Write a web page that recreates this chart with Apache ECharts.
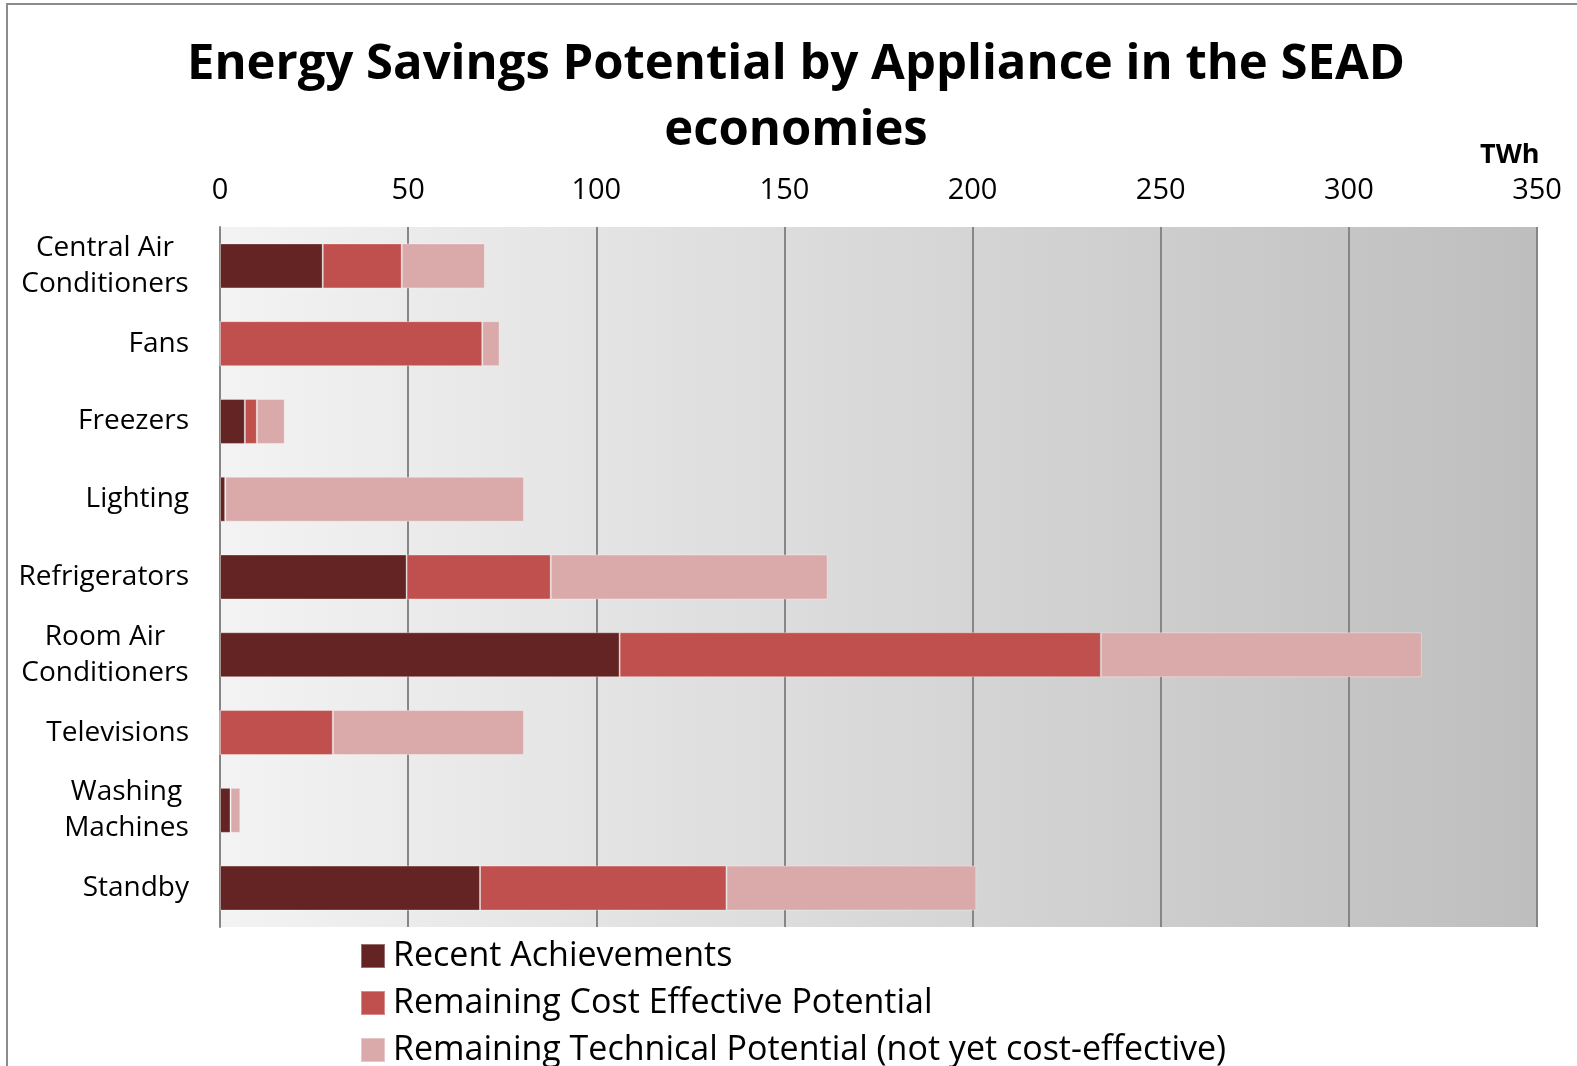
<!DOCTYPE html>
<html>
<head>
<meta charset="utf-8">
<script src="https://cdn.jsdelivr.net/npm/echarts@6/dist/echarts.min.js"></script>
<style>
html,body{margin:0;padding:0;background:#fff;}
#chart{width:1577px;height:1066px;}
</style>
</head>
<body>
<div id="chart"></div>
<script>
var categories = ['Central Air\nConditioners','Fans','Freezers','Lighting','Refrigerators','Room Air\nConditioners','Televisions','Washing\nMachines','Standby'];
var recentAchievements = [27.3, 0, 6.6, 1.4, 49.6, 106.2, 0, 2.8, 69.1];
var remainingCostEffective = [21.0, 69.7, 3.2, 0, 38.3, 127.9, 30.0, 0, 65.5];
var remainingTechnical = [22.1, 4.6, 7.4, 79.4, 73.6, 85.3, 50.8, 2.6, 66.4];
var seriesNames = ['Recent Achievements','Remaining Cost Effective Potential','Remaining Technical Potential (not yet cost-effective)'];
var xTicks = [0, 50, 100, 150, 200, 250, 300, 350];

var FONT = '"Open Sans", "Noto Sans", sans-serif';
var labelSize = 28;
var ctx = document.createElement('canvas').getContext('2d');
ctx.font = labelSize + 'px "Open Sans"';
var rich = {};
categories.forEach(function(c, i){
  if (c.indexOf('\n') >= 0) {
    var w = 0;
    c.split('\n').forEach(function(l){ w = Math.max(w, ctx.measureText(l).width); });
    rich['c' + i] = {width: Math.ceil(w), align: 'center', fontSize: labelSize, fontFamily: FONT, color: '#000', lineHeight: 36};
  }
});

var chart = echarts.init(document.getElementById('chart'));
var colors = ['#632423', '#C0504D', '#DAAAAA'];
var data = [recentAchievements, remainingCostEffective, remainingTechnical];

chart.setOption({
  animation: false,
  title: {
    text: 'Energy Savings Potential by Appliance in the SEAD\neconomies',
    left: 791,
    textAlign: 'center',
    top: 27,
    textStyle: {fontFamily: FONT, fontWeight: 'bold', fontSize: 49, lineHeight: 66, color: '#000'}
  },
  graphic: [
    {type: 'rect', shape: {x: 7, y: 4, width: 1620, height: 1120}, style: {fill: 'none', stroke: '#8c8c8c', lineWidth: 2}, silent: true},
    {type: 'text', left: 1480, top: 142, style: {text: 'TWh', font: 'bold 27px ' + FONT, fill: '#000'}}
  ],
  legend: {
    orient: 'vertical',
    left: 360,
    top: 939,
    height: 140,
    padding: 0,
    itemWidth: 24,
    itemHeight: 24,
    itemGap: 13,
    icon: 'rect',
    textStyle: {fontFamily: FONT, fontSize: 34, color: '#000', lineHeight: 34, padding: [0, 0, 0, 3]},
    data: seriesNames
  },
  grid: {
    left: 220, right: 40, top: 227, bottom: 139,
    show: true,
    borderWidth: 0,
    backgroundColor: new echarts.graphic.LinearGradient(0, 0, 1, 0, [
      {offset: 0, color: '#F3F3F3'},
      {offset: 1, color: '#BEBEBE'}
    ])
  },
  xAxis: {
    type: 'value',
    position: 'top',
    min: 0, max: 350, interval: 50,
    axisLine: {show: false},
    axisTick: {show: false},
    axisLabel: {fontFamily: FONT, fontSize: 29, color: '#000', margin: 22,
      formatter: function(v){ return xTicks.indexOf(v) >= 0 ? String(v) : ''; }},
    splitLine: {show: true, lineStyle: {color: '#868686', width: 2}}
  },
  yAxis: {
    type: 'category',
    inverse: true,
    data: categories,
    axisLine: {show: true, lineStyle: {color: '#868686', width: 2}},
    axisTick: {show: false},
    axisLabel: {
      fontFamily: FONT, fontSize: labelSize, color: '#000', margin: 31, lineHeight: 36,
      formatter: function(v, i){
        if (v.indexOf('\n') >= 0) {
          return v.split('\n').map(function(l){ return '{c' + i + '|' + l + '}'; }).join('\n');
        }
        return v;
      },
      rich: rich
    }
  },
  series: seriesNames.map(function(n, k){
    return {
      name: n,
      type: 'bar',
      stack: 'total',
      barWidth: 45,
      data: data[k],
      itemStyle: {color: colors[k], borderColor: 'rgba(255,255,255,0.35)', borderWidth: 1}
    };
  })
});
</script>
</body>
</html>
